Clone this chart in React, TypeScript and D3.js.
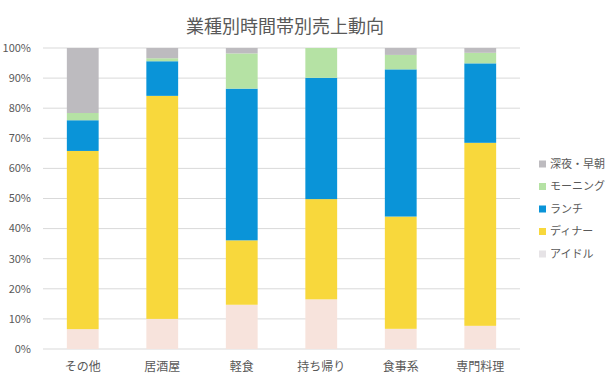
import React from "react";
import * as d3 from "d3";

const categories = ["その他", "居酒屋", "軽食", "持ち帰り", "食事系", "専門料理"];
const seriesNames = ["アイドル", "ディナー", "ランチ", "モーニング", "深夜・早朝"];
const idle = [6.6, 10.0, 14.7, 16.5, 6.7, 7.7];
const dinner = [59.2, 74.1, 21.4, 33.3, 37.3, 60.8];
const lunch = [10.2, 11.5, 50.4, 40.3, 48.9, 26.4];
const morning = [2.4, 1.0, 11.7, 9.9, 4.8, 3.5];
const lateNight = [21.6, 3.4, 1.8, 0, 2.3, 1.6];
const yTicks = [0, 10, 20, 30, 40, 50, 60, 70, 80, 90, 100];
const title = "業種別時間帯別売上動向";

const colors = ["#f7e3dc", "#f8d83c", "#0a94d8", "#b5e2a4", "#bdbbbf"];
const legendColors = ["#e6e3e6", "#f8d83c", "#0a94d8", "#b5e2a4", "#bdbbbf"];

export default function App() {
  const W = 616, H = 382;
  const left = 43, right = 520, top = 48, bottom = 349;
  const x = d3.scaleBand().domain(categories).range([left, right]).paddingInner(0.6).paddingOuter(0.3);
  const y = d3.scaleLinear().domain([0, 100]).range([bottom, top]);
  const all = [idle, dinner, lunch, morning, lateNight];
  const table = categories.map((c, i) => {
    const o: any = { cat: c };
    seriesNames.forEach((s, k) => (o[s] = all[k][i]));
    return o;
  });
  const stacked = d3.stack().keys(seriesNames)(table);
  const font = "'Noto Sans CJK JP', 'Noto Sans', sans-serif";
  const legendOrder = [4, 3, 2, 1, 0];
  return (
    <svg width={W} height={H} style={{ position: "absolute", left: 0, top: 0, background: "#fff" }}>
      <text x={285} y={33} textAnchor="middle" fontSize={18} fill="#595959" fontFamily={font}>{title}</text>
      {yTicks.map((t) => (
        <g key={t}>
          <line x1={left} x2={right} y1={y(t)} y2={y(t)} stroke="#d9d9d9" strokeWidth={1} />
          <text x={31} y={y(t)} dy="0.35em" textAnchor="end" fontSize={11} fill="#595959" fontFamily={font}>{t}%</text>
        </g>
      ))}
      {stacked.map((layer, k) => (
        <g key={layer.key} fill={colors[k]}>
          {layer.map((d, i) => (
            <rect key={i} x={x(categories[i])} width={x.bandwidth()} y={y(d[1])} height={Math.max(0, y(d[0]) - y(d[1]))} />
          ))}
        </g>
      ))}
      {categories.map((c) => (
        <text key={c} x={(x(c) as number) + x.bandwidth() / 2} y={367} dy="0.35em" textAnchor="middle" fontSize={12} fill="#595959" fontFamily={font}>{c}</text>
      ))}
      {legendOrder.map((k, j) => (
        <g key={k} transform={`translate(539, ${164 + j * 22.5})`}>
          <rect x={0} y={-3.5} width={7} height={7} fill={legendColors[k]} />
          <text x={11} y={0} dy="0.35em" fontSize={11} fill="#595959" fontFamily={font}>{seriesNames[k]}</text>
        </g>
      ))}
    </svg>
  );
}
